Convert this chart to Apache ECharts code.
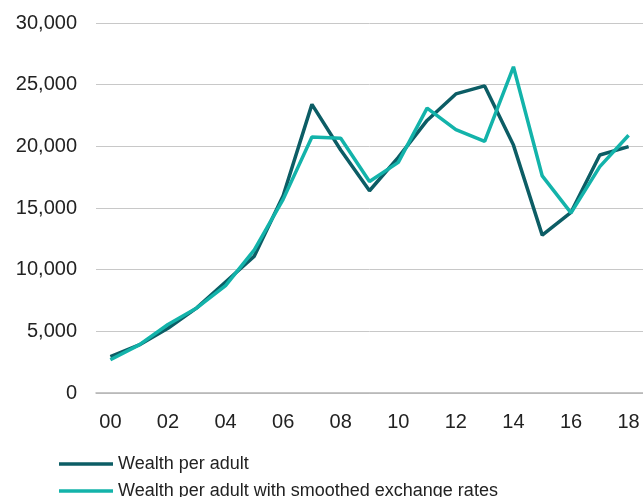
<!DOCTYPE html>
<html>
<head>
<meta charset="utf-8">
<script src="https://cdn.jsdelivr.net/npm/echarts@6/dist/echarts.min.js"></script>
<style>html,body{margin:0;padding:0;background:#fff}#c{width:643px;height:497px}</style>
</head>
<body>
<div id="c"></div>
<script>
const years = ['00','01','02','03','04','05','06','07','08','09','10','11','12','13','14','15','16','17','18'];
const wealthPerAdult = [2950, 3900, 5250, 6900, 9000, 11100, 16000, 23400, 19700, 16400, 19100, 22100, 24250, 24900, 20100, 12800, 14650, 19300, 19980];
const wealthSmoothed = [2700, 3900, 5550, 6900, 8700, 11600, 15700, 20750, 20650, 17150, 18700, 23100, 21350, 20400, 26450, 17600, 14600, 18350, 20900];
const seriesNames = ['Wealth per adult', 'Wealth per adult with smoothed exchange rates'];

const chart = echarts.init(document.getElementById('c'));
const font = 'Liberation Sans, Arial, Helvetica, sans-serif';
const legendBase = {
  orient: 'horizontal', left: 54,
  itemWidth: 54, itemHeight: 3.5, icon: 'rect',
  textStyle: { fontFamily: font, fontSize: 18, color: '#222', lineHeight: 18 }
};
chart.setOption({
  animation: false,
  backgroundColor: '#fff',
  grid: { left: 96, right: 0, top: 23, bottom: 104, containLabel: false },
  legend: [
    Object.assign({}, legendBase, { top: 450, data: [seriesNames[0]] }),
    Object.assign({}, legendBase, { top: 477, data: [seriesNames[1]] })
  ],
  xAxis: {
    type: 'category', data: years, boundaryGap: true,
    axisLine: { lineStyle: { color: '#b4b4b4', width: 1.5 } },
    axisTick: { show: false },
    axisLabel: { interval: 1, margin: 19, fontFamily: font, fontSize: 20, color: '#222' }
  },
  yAxis: {
    type: 'value', min: 0, max: 30000, interval: 5000,
    axisLine: { show: false }, axisTick: { show: false },
    splitLine: { lineStyle: { color: '#c8c8c8', width: 1 } },
    axisLabel: { margin: 19, fontFamily: font, fontSize: 20, color: '#222',
      formatter: v => v.toLocaleString('en-US') }
  },
  series: [
    { name: seriesNames[0], type: 'line', data: wealthPerAdult, symbol: 'none',
      lineStyle: { color: '#0c5d65', width: 3.5 }, itemStyle: { color: '#0c5d65' } },
    { name: seriesNames[1], type: 'line', data: wealthSmoothed, symbol: 'none',
      lineStyle: { color: '#13b3aa', width: 3.5 }, itemStyle: { color: '#13b3aa' } }
  ]
});
</script>
</body>
</html>
